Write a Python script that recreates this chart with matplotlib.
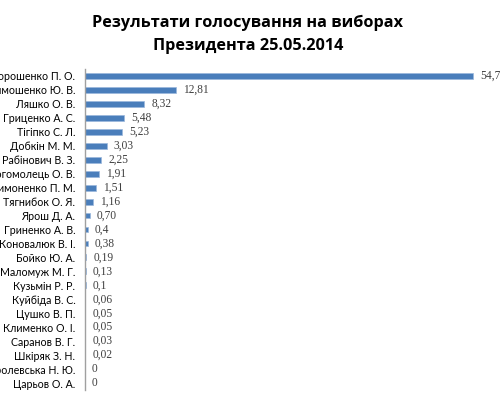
import matplotlib
matplotlib.use('Agg')
import matplotlib.pyplot as plt

candidates = ['Порошенко П. О.', 'Тимошенко Ю. В.', 'Ляшко О. В.', 'Гриценко А. С.',
              'Тігіпко С. Л.', 'Добкін М. М.', 'Рабінович В. З.', 'Богомолець О. В.',
              'Симоненко П. М.', 'Тягнибок О. Я.', 'Ярош Д. А.', 'Гриненко А. В.',
              'Коновалюк В. І.', 'Бойко Ю. А.', 'Маломуж М. Г.', 'Кузьмін Р. Р.',
              'Куйбіда В. С.', 'Цушко В. П.', 'Клименко О. І.', 'Саранов В. Г.',
              'Шкіряк З. Н.', 'Королевська Н. Ю.', 'Царьов О. А.']
values = [54.7, 12.81, 8.32, 5.48, 5.23, 3.03, 2.25, 1.91, 1.51, 1.16, 0.70, 0.4,
          0.38, 0.19, 0.13, 0.1, 0.06, 0.05, 0.05, 0.03, 0.02, 0, 0]
value_labels = ['54,7', '12,81', '8,32', '5,48', '5,23', '3,03', '2,25', '1,91', '1,51',
                '1,16', '0,70', '0,4', '0,38', '0,19', '0,13', '0,1', '0,06', '0,05',
                '0,05', '0,03', '0,02', '0', '0']

fig = plt.figure(figsize=(5, 4), dpi=100)
# plot area runs past the right edge, like the source image
ax = fig.add_axes([85/500, 10/400, 426/500, 321/400])

pos = range(len(candidates))
ax.barh(pos, values, height=0.42, color='#4a7ebb', edgecolor='#9bb7dc', linewidth=0.5)
ax.set_ylim(len(candidates) - 0.5, -0.5)
ax.set_xlim(0, 60)

ax.set_yticks(list(pos))
ax.set_yticklabels(candidates, family='Lato', fontsize=7.7)
ax.tick_params(axis='y', length=0, pad=7)
ax.set_xticks([])

for key, spine in ax.spines.items():
    spine.set_visible(False)
ax.spines['left'].set_visible(True)
ax.spines['left'].set_color('#a0a0a0')
ax.spines['left'].set_linewidth(1)

for i in pos:
    ax.text(values[i] + 1.0, i, value_labels[i], va='center', ha='left',
            family='Liberation Serif', fontsize=8.3, color='#404040')

fig.text(0.496, 0.943, 'Результати голосування на виборах', ha='center', va='center',
         family='Open Sans', fontweight='bold', fontsize=11.7)
fig.text(0.496, 0.885, 'Президента 25.05.2014', ha='center', va='center',
         family='Open Sans', fontweight='bold', fontsize=11.7)

fig.savefig('out.png', dpi=100)
